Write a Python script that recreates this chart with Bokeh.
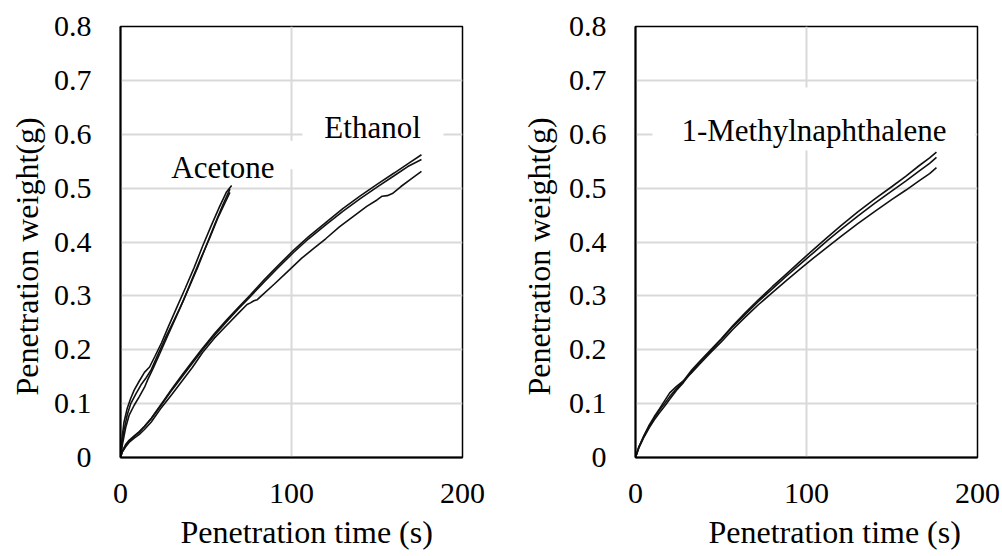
from bokeh.embed import file_html
from bokeh.layouts import row
from bokeh.models import BoxAnnotation, FixedTicker, Label, Range1d, Title
from bokeh.plotting import figure
from bokeh.resources import INLINE

FONT = "Liberation Serif"

# ---------------- axis ticks ----------------
x_ticks = [0, 100, 200]
y_ticks = [0, 0.1, 0.2, 0.3, 0.4, 0.5, 0.6, 0.7, 0.8]

# ---------------- acetone (three runs) ----------------
acetone_t1 = [0, 1, 2, 4, 6, 9, 12, 15, 18, 22, 26, 30, 35, 40, 45, 50, 55, 60, 64]
acetone_w1 = [0, 0.03, 0.05, 0.08, 0.1, 0.118, 0.135, 0.148, 0.163, 0.192, 0.22, 0.246,
              0.279, 0.315, 0.352, 0.392, 0.432, 0.47, 0.498]
acetone_t2 = [0, 1, 2, 4, 6, 8, 11, 14, 17, 20, 24, 28, 33, 38, 43, 48, 53, 58, 62, 65]
acetone_w2 = [0, 0.038, 0.065, 0.092, 0.11, 0.125, 0.142, 0.158, 0.168, 0.187, 0.213,
              0.243, 0.279, 0.315, 0.352, 0.392, 0.43, 0.466, 0.493, 0.505]
acetone_t3 = [0, 1, 3, 5, 8, 11, 14, 16, 19, 23, 27, 32, 37, 42, 47, 52, 57, 61, 64]
acetone_w3 = [0, 0.022, 0.055, 0.078, 0.097, 0.113, 0.13, 0.145, 0.165, 0.193, 0.222,
              0.257, 0.293, 0.332, 0.37, 0.406, 0.445, 0.472, 0.492]

# ---------------- ethanol (three runs) ----------------
ethanol_t = [0, 1, 3, 5, 8, 11, 14, 18, 24, 30, 36, 42, 48, 55, 62, 69, 76, 84, 92,
             101, 110, 120, 130, 140, 150, 160, 168, 176]
ethanol_w1 = [0, 0.012, 0.024, 0.032, 0.04, 0.048, 0.058, 0.073, 0.1, 0.127, 0.153,
              0.178, 0.203, 0.23, 0.255, 0.279, 0.302, 0.33, 0.356, 0.384, 0.41, 0.436,
              0.462, 0.485, 0.507, 0.528, 0.545, 0.562]
ethanol_w2 = [0, 0.01, 0.022, 0.03, 0.039, 0.047, 0.057, 0.072, 0.098, 0.125, 0.15,
              0.175, 0.2, 0.227, 0.252, 0.276, 0.299, 0.326, 0.352, 0.38, 0.406, 0.432,
              0.457, 0.48, 0.502, 0.523, 0.54, 0.553]
ethanol_t3 = [0, 1, 3, 5, 8, 11, 14, 18, 24, 30, 36, 42, 48, 55, 62, 69, 74, 76, 78,
              80, 83, 90, 98, 106, 113, 120, 128, 136, 144, 150, 153, 156, 159, 164,
              170, 176]
ethanol_w3 = [0, 0.01, 0.02, 0.028, 0.036, 0.043, 0.052, 0.066, 0.093, 0.117, 0.142,
              0.167, 0.195, 0.222, 0.245, 0.268, 0.284, 0.287, 0.291, 0.293, 0.302,
              0.322, 0.346, 0.37, 0.388, 0.406, 0.428, 0.447, 0.466, 0.478, 0.485,
              0.486, 0.49, 0.503, 0.517, 0.531]

# ---------------- 1-methylnaphthalene (three runs) ----------------
mn_t = [0, 2, 5, 8, 11, 14, 17, 20, 24, 28, 33, 38, 44, 50, 57, 64, 72, 80, 88, 96,
        104, 112, 120, 130, 140, 150, 158, 166, 172, 176]
mn_w1 = [0, 0.02, 0.04, 0.058, 0.073, 0.088, 0.1, 0.113, 0.128, 0.142, 0.163, 0.18,
         0.2, 0.22, 0.245, 0.268, 0.293, 0.317, 0.34, 0.363, 0.386, 0.408, 0.43, 0.456,
         0.48, 0.503, 0.522, 0.542, 0.556, 0.567]
mn_w2 = [0, 0.018, 0.038, 0.055, 0.07, 0.083, 0.095, 0.108, 0.125, 0.139, 0.16, 0.178,
         0.198, 0.218, 0.243, 0.265, 0.29, 0.313, 0.336, 0.358, 0.38, 0.402, 0.423,
         0.448, 0.472, 0.495, 0.513, 0.532, 0.546, 0.557]
mn_w3 = [0, 0.02, 0.041, 0.06, 0.076, 0.09, 0.105, 0.12, 0.132, 0.142, 0.158, 0.175,
         0.195, 0.214, 0.238, 0.26, 0.284, 0.306, 0.328, 0.349, 0.37, 0.39, 0.41,
         0.434, 0.457, 0.479, 0.496, 0.514, 0.527, 0.538]

LINE_COLOR = "#111111"
GRID_COLOR = "#d9d9d9"
X_TITLE = "Penetration time (s)"
Y_TITLE = "Penetration weight(g)"


def make_panel(width, border_left, border_right):
    p = figure(
        width=width, height=556,
        output_backend="svg", toolbar_location=None,
        x_range=Range1d(0, 200), y_range=Range1d(0, 0.8),
        min_border_left=border_left, min_border_right=border_right,
        min_border_top=26, min_border_bottom=99,
    )
    p.background_fill_color = "white"
    p.border_fill_color = "white"
    p.outline_line_color = "black"
    p.outline_line_width = 1.5

    p.xaxis.ticker = FixedTicker(ticks=x_ticks)
    p.yaxis.ticker = FixedTicker(ticks=y_ticks)
    p.xgrid.ticker = FixedTicker(ticks=x_ticks)
    p.ygrid.ticker = FixedTicker(ticks=y_ticks)
    p.yaxis.major_label_overrides = {0: "0"}

    for ax in (p.xaxis, p.yaxis):
        ax.axis_line_color = "black"
        ax.axis_line_width = 2
        ax.major_tick_line_color = None
        ax.minor_tick_line_color = None
        ax.major_tick_out = 0
        ax.major_tick_in = 0
        ax.major_label_text_font = FONT
        ax.major_label_text_font_size = "30px"
        ax.major_label_text_color = "black"
    p.xaxis.major_label_standoff = 26
    p.yaxis.major_label_standoff = 29

    for g in (p.xgrid, p.ygrid):
        g.grid_line_color = GRID_COLOR
        g.grid_line_width = 2
    return p


def add_axis_title(p, text, side, offset, standoff):
    # titles sit outside the axes; left-aligned so that offset sets where they start
    p.add_layout(Title(text=text, align="left", offset=offset, standoff=standoff,
                       text_font=FONT, text_font_size="32px",
                       text_font_style="normal", text_color="black"), side)


def add_white_box(p, left, right, bottom, top):
    p.add_layout(BoxAnnotation(left=left, right=right, bottom=bottom, top=top,
                               fill_color="white", fill_alpha=1.0,
                               line_color=None, level="underlay"))


def add_text(p, x, y, text):
    p.add_layout(Label(x=x, y=y, text=text, text_font=FONT, text_font_size="31px",
                       text_color="black", text_align="center",
                       text_baseline="alphabetic"))


# ---------------- left panel: acetone and ethanol ----------------
p1 = make_panel(500, 120, 38)
add_white_box(p1, 25, 103.5, 0.535, 0.588)
add_white_box(p1, 106.4, 188.9, 0.588, 0.681)
for t, w in ((acetone_t1, acetone_w1), (acetone_t2, acetone_w2),
             (acetone_t3, acetone_w3), (ethanol_t, ethanol_w1),
             (ethanol_t, ethanol_w2), (ethanol_t3, ethanol_w3)):
    p1.line(t, w, line_color=LINE_COLOR, line_width=1.6)
add_text(p1, 59.9, 0.538, "Acetone")
add_text(p1, 147.4, 0.613, "Ethanol")
add_axis_title(p1, X_TITLE, "below", 60, 12)
add_axis_title(p1, Y_TITLE, "left", 62, 11)

# ---------------- right panel: 1-methylnaphthalene ----------------
p2 = make_panel(502, 135, 25)
add_white_box(p2, 9.9, 198.8, 0.570, 0.687)
for w in (mn_w1, mn_w2, mn_w3):
    p2.line(mn_t, w, line_color=LINE_COLOR, line_width=1.6)
add_text(p2, 104.4, 0.607, "1-Methylnaphthalene")
add_axis_title(p2, X_TITLE, "below", 73, 12)
add_axis_title(p2, Y_TITLE, "left", 62, 18)

layout = row(p1, p2)
open("out.html", "w").write(file_html(layout, INLINE))
